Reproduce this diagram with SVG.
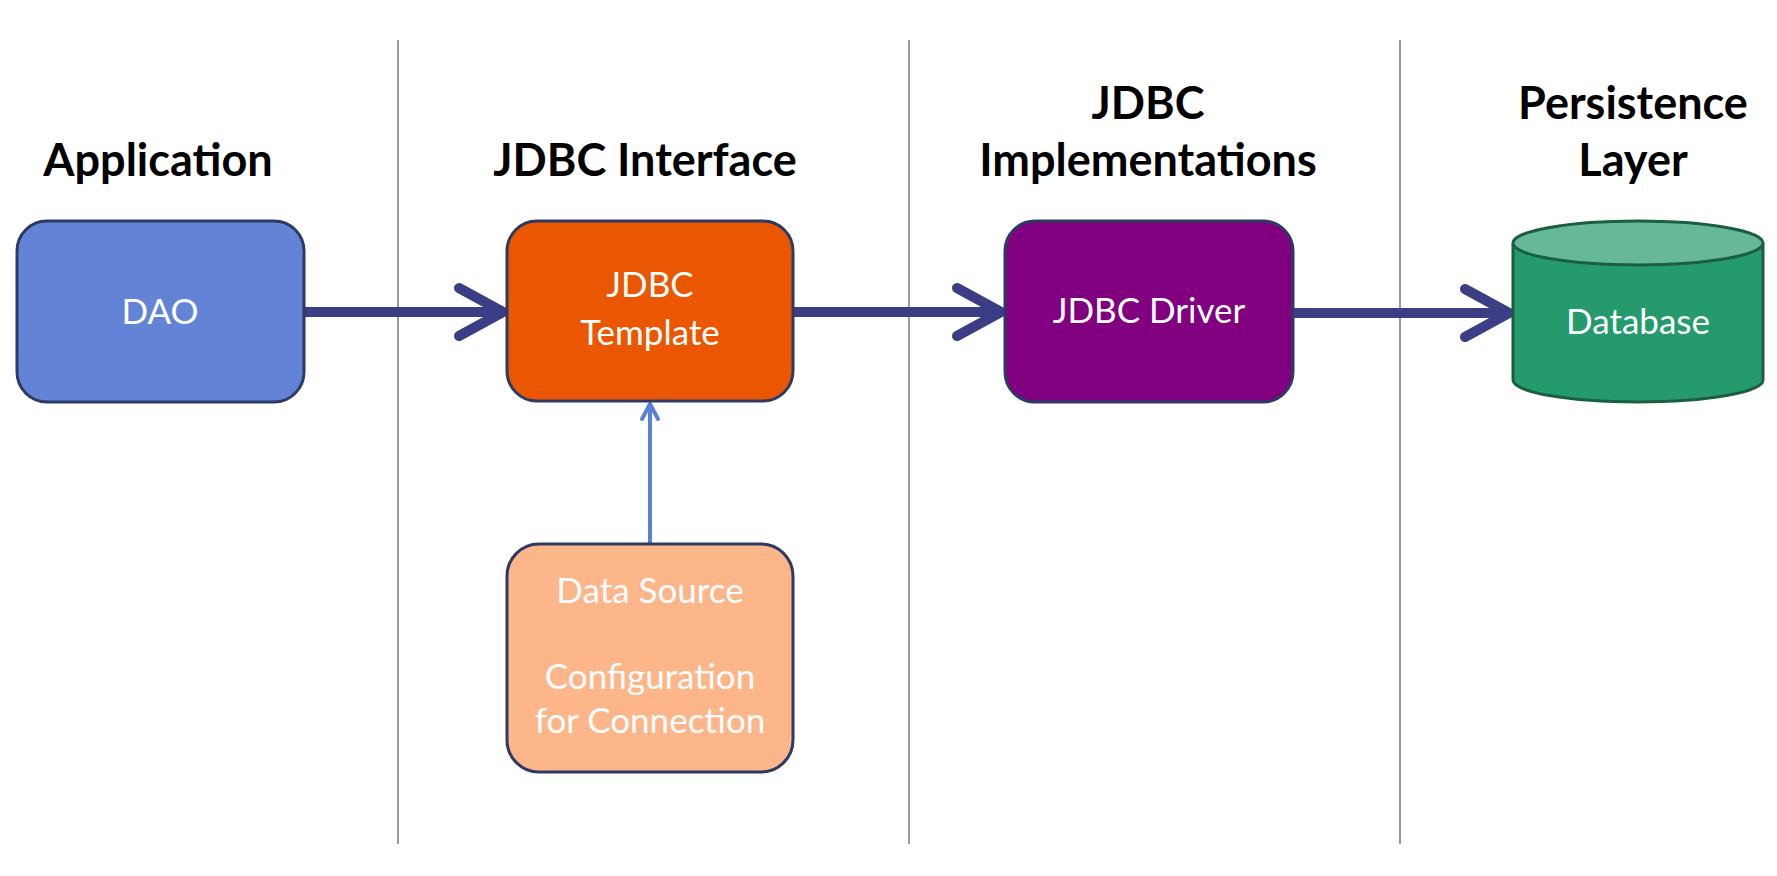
<svg xmlns="http://www.w3.org/2000/svg" width="1777" height="876" viewBox="0 0 1777 876">
<style>
.hdr{font-family:Lato,"Open Sans",sans-serif;font-weight:700;font-size:45px;fill:#000;text-anchor:middle}
.lbl{font-family:Lato,"Open Sans",sans-serif;font-size:35px;fill:#fff;text-anchor:middle}
.box{stroke:#2E3A66;stroke-width:3}
.sep{stroke:#9A9A9A;stroke-width:2}
.main{stroke:#3B3D85;stroke-width:10;fill:none;stroke-linecap:round;stroke-linejoin:round}
.aux{stroke:#5B7FD8;stroke-width:4;fill:none;stroke-linecap:round;stroke-linejoin:round}
</style>
<rect width="1777" height="876" fill="#fff"/>
<g id="separators">
<line class="sep" x1="398" y1="40" x2="398" y2="844"/>
<line class="sep" x1="909" y1="40" x2="909" y2="844"/>
<line class="sep" x1="1400" y1="40" x2="1400" y2="844"/>
</g>
<g id="headers">
<text class="hdr" x="158" y="176">Application</text>
<text class="hdr" x="645" y="176">JDBC Interface</text>
<text class="hdr" x="1148" y="119">JDBC</text>
<text class="hdr" x="1148" y="176">Implementations</text>
<text class="hdr" x="1633" y="119">Persistence</text>
<text class="hdr" x="1633" y="176">Layer</text>
</g>
<g id="connectors">
<line class="main" x1="304" y1="312" x2="500" y2="312"/>
<polyline class="main" points="459,288 503,312 459,336"/>
<line class="main" x1="793" y1="312" x2="998" y2="312"/>
<polyline class="main" points="957,288 1001,312 957,336"/>
<line class="main" x1="1293" y1="313" x2="1506" y2="313"/>
<polyline class="main" points="1465,289 1509,313 1465,337"/>
<line class="aux" x1="650" y1="544" x2="650" y2="405"/>
<polyline class="aux" points="642,419 650,404 658,419"/>
</g>
<g id="dao">
<rect class="box" x="17" y="221" width="287" height="181" rx="30" fill="#6384D6"/>
<text class="lbl" x="160" y="324">DAO</text>
</g>
<g id="jdbc-template">
<rect class="box" x="507" y="221" width="286" height="180" rx="30" fill="#EB5600"/>
<text class="lbl" x="650" y="297">JDBC</text>
<text class="lbl" x="650" y="345">Template</text>
</g>
<g id="data-source">
<rect class="box" x="507" y="544" width="286" height="228" rx="32" fill="#FDB58A"/>
<text class="lbl" x="650" y="603">Data Source</text>
<text class="lbl" x="650" y="689">Configuration</text>
<text class="lbl" x="650" y="733">for Connection</text>
</g>
<g id="jdbc-driver">
<rect class="box" x="1005" y="221" width="288" height="181" rx="30" fill="#800080"/>
<text class="lbl" x="1149" y="323">JDBC Driver</text>
</g>
<g id="database">
<path d="M1513,243 L1513,380 A125,22 0 0 0 1763,380 L1763,243" fill="#259B6D" stroke="#1B5E41" stroke-width="3"/>
<ellipse cx="1638" cy="243" rx="125" ry="22" fill="#66B998" stroke="#1B5E41" stroke-width="3"/>
<text class="lbl" x="1638" y="334">Database</text>
</g>
</svg>
